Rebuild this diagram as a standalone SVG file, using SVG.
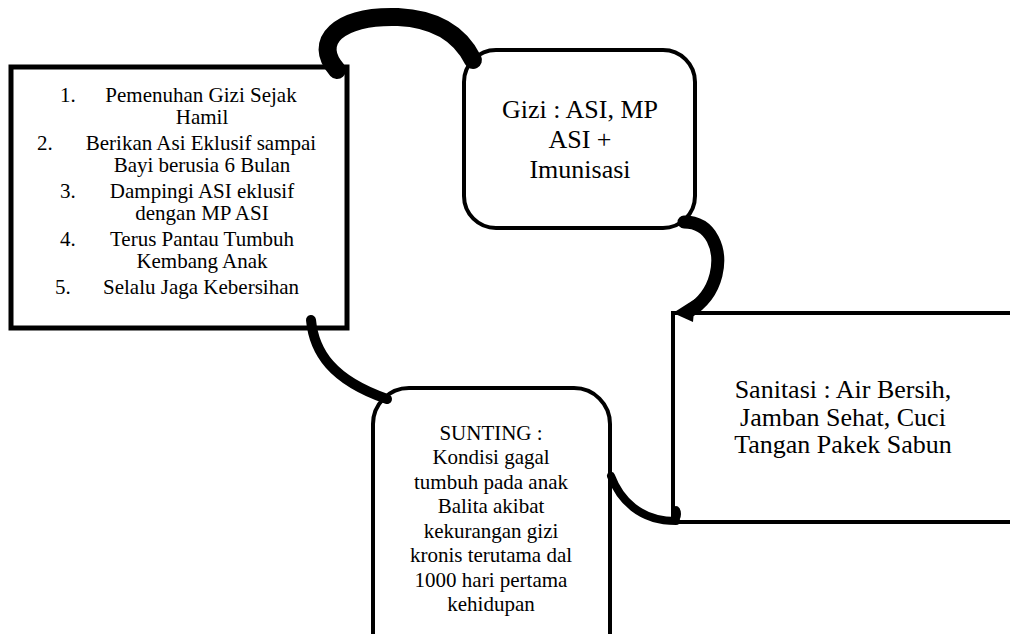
<svg xmlns="http://www.w3.org/2000/svg" width="1010" height="634" viewBox="0 0 1010 634">
<style>
.box{fill:#fff;stroke:#000;stroke-width:4}
.t{font-family:"Liberation Serif","Times New Roman",serif;fill:#000}
.s21{font-size:21px}
.s26{font-size:26px}
.c{text-anchor:middle}
.conn{fill:none;stroke:#000;stroke-linecap:round}
</style>
<rect width="1010" height="634" fill="#fff"/>
<g id="node-left">
<rect class="box" x="11" y="67" width="336" height="261" style="stroke-width:5"/>
<text class="t s21" x="60" y="102">1.</text>
<text class="t s21 c" x="201" y="102">Pemenuhan Gizi Sejak</text>
<text class="t s21 c" x="202" y="124">Hamil</text>
<text class="t s21" x="37" y="150">2.</text>
<text class="t s21 c" x="201" y="150">Berikan Asi Eklusif sampai</text>
<text class="t s21 c" x="202" y="172">Bayi berusia 6 Bulan</text>
<text class="t s21" x="60" y="198">3.</text>
<text class="t s21 c" x="202" y="198">Dampingi ASI eklusif</text>
<text class="t s21 c" x="202" y="220">dengan MP ASI</text>
<text class="t s21" x="60" y="246">4.</text>
<text class="t s21 c" x="202" y="246">Terus Pantau Tumbuh</text>
<text class="t s21 c" x="202" y="268">Kembang Anak</text>
<text class="t s21" x="55" y="294">5.</text>
<text class="t s21 c" x="201" y="294">Selalu Jaga Kebersihan</text>
</g>
<g id="node-gizi">
<rect class="box" x="464" y="50" width="231" height="178" rx="32"/>
<text class="t s26 c" x="580" y="118">Gizi : ASI, MP</text>
<text class="t s26 c" x="580" y="148">ASI +</text>
<text class="t s26 c" x="580" y="178">Imunisasi</text>
</g>
<g id="node-sanitasi">
<rect class="box" x="673" y="313" width="400" height="209"/>
<text class="t s26 c" x="843" y="398">Sanitasi : Air Bersih,</text>
<text class="t s26 c" x="843" y="426">Jamban Sehat, Cuci</text>
<text class="t s26 c" x="843" y="453">Tangan Pakek Sabun</text>
</g>
<g id="node-sunting">
<rect class="box" x="373" y="388" width="237" height="300" rx="36"/>
<text class="t s21 c" x="491" y="440">SUNTING :</text>
<text class="t s21 c" x="491" y="464">Kondisi gagal</text>
<text class="t s21 c" x="491" y="489">tumbuh pada anak</text>
<text class="t s21 c" x="491" y="513">Balita akibat</text>
<text class="t s21 c" x="491" y="538">kekurangan gizi</text>
<text class="t s21 c" x="491" y="562">kronis terutama dal</text>
<text class="t s21 c" x="491" y="587">1000 hari pertama</text>
<text class="t s21 c" x="491" y="611">kehidupan</text>
</g>
<g id="connectors">
<path class="conn" d="M 337 70 C 312 42, 338 15, 398 17 C 440 19, 462 38, 473 60" stroke-width="18"/>
<path class="conn" d="M 684 222 C 712 222, 722 250, 716 275 C 711 295, 700 305, 688 312" stroke-width="13"/>
<polygon points="673,313 695,299 693,322" fill="#000"/>
<path class="conn" d="M 311 320 C 314 352, 332 380, 387 399" stroke-width="10"/>
<path class="conn" d="M 611 476 C 620 500, 640 521, 676 521" stroke-width="8"/>
<ellipse cx="676" cy="514" rx="5" ry="8" fill="#000"/>
</g>
</svg>
